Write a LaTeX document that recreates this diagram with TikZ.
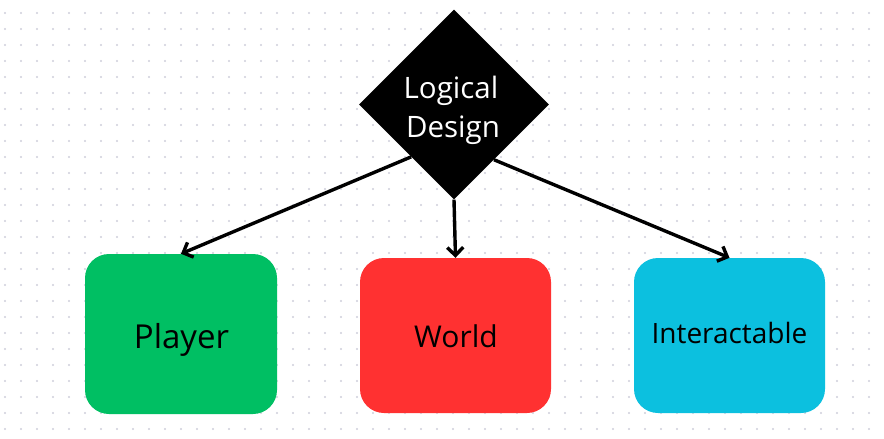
\documentclass[tikz,border=0pt]{standalone}
\usepackage{fontspec}
\setmainfont{Open Sans}
\usetikzlibrary{shapes.geometric,arrows.meta,calc}
\definecolor{pgreen}{HTML}{00BF63}
\definecolor{wred}{HTML}{FF3131}
\definecolor{icyan}{HTML}{0CC0DF}
\definecolor{griddot}{HTML}{CFCFDB}
\tikzset{
  box/.style={rectangle, rounded corners=24pt, inner sep=0pt},
  lbl/.style={anchor=base, inner sep=0pt, text=black},
  link/.style={line width=3.4pt, -{Straight Barb[length=8pt,width=16pt,line width=3.4pt]}},
}
\begin{document}
\begin{tikzpicture}[x=1pt,y=-1pt]
\useasboundingbox (0,0) rectangle (884,439);
\fill[white] (0,0) rectangle (884,439);
\foreach \i in {0,...,54}{
  \foreach \j in {0,...,26}{
    \fill[griddot] (5+16*\i,13+16*\j) circle (1.1pt);
  }
}
\node[diamond, fill=black, aspect=1, minimum width=190pt, minimum height=190pt, inner sep=0pt] (ld) at (454,104.5) {};
\node[lbl, text=white, font=\fontsize{29.5}{36}\selectfont] (ldt1) at (451,98) {Logical};
\node[lbl, text=white, font=\fontsize{29.5}{36}\selectfont] (ldt2) at (453,137) {Design};
\node[box, fill=pgreen, minimum width=192pt, minimum height=160pt] (player) at (181,334) {};
\node[box, fill=wred, minimum width=191pt, minimum height=155pt] (world) at (455.5,335.5) {};
\node[box, fill=icyan, minimum width=191pt, minimum height=155pt] (inter) at (729.5,335.5) {};
\node[lbl, font=\fontsize{33}{38}\selectfont] (playert) at (181.5,348) {Player};
\node[lbl, font=\fontsize{30}{36}\selectfont] (worldt) at (456,347) {World};
\node[lbl, font=\fontsize{28}{34}\selectfont] (intert) at (729.5,343) {Interactable};
\coordinate (s1) at ($(ld.south)!0.45!(ld.west)$);
\coordinate (s3) at ($(ld.south)!0.42!(ld.east)$);
\draw[link] (s1) -- (player.north);
\draw[link] (ld.south) -- (world.north);
\draw[link] (s3) -- (inter.north);
\end{tikzpicture}
\end{document}
